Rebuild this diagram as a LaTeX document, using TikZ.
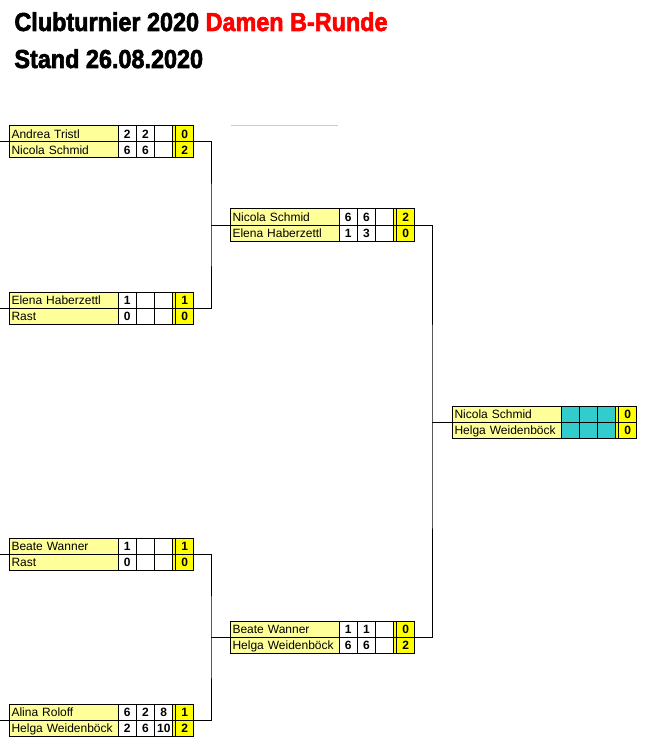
\documentclass[tikz,border=0pt]{standalone}
\usepackage{fontspec}
\setmainfont{Liberation Sans}
\newfontfamily\headfont{Liberation Sans}[BoldFeatures={FakeBold=2.5}]
\usetikzlibrary{positioning}
\definecolor{namefill}{HTML}{FFFF99}
\definecolor{resfill}{HTML}{FFFF00}
\definecolor{tealfill}{HTML}{33CCCC}
\definecolor{titlered}{HTML}{FF0000}

% one row of a match: name, three sets, double line, result
\newcommand{\playerrow}[8][score]{%
  \node[namecell, anchor=north west] (#2-n) at (#3) {#4};
  \node[#1, right=0pt of #2-n] (#2-s1) {#5};
  \node[#1, right=0pt of #2-s1] (#2-s2) {#6};
  \node[#1, right=0pt of #2-s2] (#2-s3) {#7};
  \node[gapcell, right=0pt of #2-s3] (#2-g) {};
  \node[result, right=0pt of #2-g] (#2-r) {#8};
}

\begin{document}
\begin{tikzpicture}[x=1pt, y=-1pt, line width=1pt,
    cell/.style={draw, inner sep=0pt, outer sep=0pt, minimum height=16pt,
      text height=10.5pt, text depth=1.5pt, font=\fontsize{12}{14}\selectfont},
    namecell/.style={cell, fill=namefill, inner xsep=2.5pt, text width=104pt, align=left},
    score/.style={cell, fill=white, minimum width=18.3pt, font=\fontsize{12}{14}\selectfont\bfseries},
    tealscore/.style={score, fill=tealfill},
    gapcell/.style={cell, fill=resfill, minimum width=3pt},
    result/.style={cell, fill=resfill, minimum width=17.5pt, font=\fontsize{12}{14}\selectfont\bfseries},
    title/.style={anchor=base west, inner sep=0pt, xscale=0.9, font=\headfont\fontsize{26}{30}\selectfont\bfseries}]
  \useasboundingbox[fill=white] (0,0) rectangle (650,751);

  % Title
  \node[title] (title) at (14,31) {Clubturnier 2020 \textcolor{titlered}{Damen B-Runde}};
  \node[title] (stand) at (14,68) {Stand 26.08.2020};
  \draw[black!20] (231,126) -- (338,126);

  % Round 1
  \playerrow{a1}{9,126}{Andrea Tristl}{2}{2}{}{0}
  \playerrow{a2}{a1-n.south west}{Nicola Schmid}{6}{6}{}{2}
  \playerrow{b1}{9,292}{Elena Haberzettl}{1}{}{}{1}
  \playerrow{b2}{b1-n.south west}{Rast}{0}{}{}{0}
  \playerrow{c1}{9,538}{Beate Wanner}{1}{}{}{1}
  \playerrow{c2}{c1-n.south west}{Rast}{0}{}{}{0}
  \playerrow{d1}{9,704}{Alina Roloff}{6}{2}{8}{1}
  \playerrow{d2}{d1-n.south west}{Helga Weidenböck}{2}{6}{10}{2}

  % Round 2
  \playerrow{e1}{230,209}{Nicola Schmid}{6}{6}{}{2}
  \playerrow{e2}{e1-n.south west}{Elena Haberzettl}{1}{3}{}{0}
  \playerrow{f1}{230,621}{Beate Wanner}{1}{1}{}{0}
  \playerrow{f2}{f1-n.south west}{Helga Weidenböck}{6}{6}{}{2}

  % Final
  \playerrow[tealscore]{g1}{452,406}{Nicola Schmid}{}{}{}{0}
  \playerrow[tealscore]{g2}{g1-n.south west}{Helga Weidenböck}{}{}{}{0}

  % Lines
  \coordinate (inA) at (0,142);
  \coordinate (inB) at (0,308);
  \coordinate (inC) at (0,554);
  \coordinate (inD) at (0,720);
  \coordinate (j1) at (211,225);
  \coordinate (j2) at (211,637);
  \coordinate (j3) at (432,422);
  \draw (inA) -- (a1-n.south west);
  \draw (inB) -- (b1-n.south west);
  \draw (inC) -- (c1-n.south west);
  \draw (inD) -- (d1-n.south west);
  \draw (a1-r.south east) -| (j1) |- (b1-r.south east);
  \draw (c1-r.south east) -| (j2) |- (d1-r.south east);
  \draw (j1) -- (e1-n.south west);
  \draw (j2) -- (f1-n.south west);
  \draw (e1-r.south east) -| (j3) |- (f1-r.south east);
  \draw (j3) -- (g1-n.south west);
\end{tikzpicture}
\end{document}
